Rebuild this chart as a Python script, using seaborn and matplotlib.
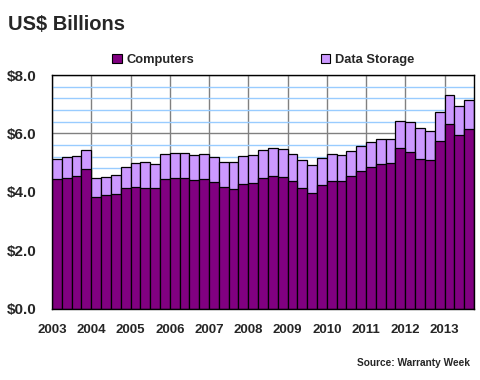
import matplotlib
matplotlib.use("Agg")
import matplotlib.pyplot as plt
import matplotlib.transforms as mtransforms
from matplotlib.patches import Patch
from matplotlib.ticker import MultipleLocator, FuncFormatter
import numpy as np
import pandas as pd
import seaborn as sns

# quarterly values, 2003 Q1 .. 2013 Q3 (US$ billions)
years = ['2003', '2004', '2005', '2006', '2007', '2008',
         '2009', '2010', '2011', '2012', '2013']
computers = [4.43, 4.46, 4.53, 4.78, 3.81, 3.88, 3.91, 4.12,
             4.15, 4.12, 4.12, 4.45, 4.46, 4.46, 4.39, 4.43,
             4.32, 4.15, 4.08, 4.25, 4.29, 4.46, 4.53, 4.49,
             4.36, 4.12, 3.95, 4.22, 4.36, 4.36, 4.53, 4.70,
             4.84, 4.94, 4.97, 5.49, 5.35, 5.11, 5.08, 5.73,
             6.31, 5.93, 6.14]
storage = [0.70, 0.72, 0.68, 0.64, 0.65, 0.61, 0.65, 0.72,
           0.82, 0.89, 0.82, 0.83, 0.86, 0.86, 0.86, 0.85,
           0.86, 0.86, 0.93, 0.96, 0.96, 0.96, 0.96, 0.96,
           0.92, 0.96, 0.96, 0.93, 0.92, 0.89, 0.86, 0.87,
           0.86, 0.88, 0.85, 0.92, 1.03, 1.06, 0.99, 0.99,
           0.99, 1.00, 0.99]
quarters = [f"{y}Q{q}" for y in years for q in range(1, 5)][:len(computers)]

df = pd.DataFrame({'quarter': quarters, 'computers': computers, 'storage': storage})
df['total'] = df['computers'] + df['storage']

sns.set_style('white')
plt.rcParams['font.family'] = ['Liberation Sans', 'DejaVu Sans']

dark = '#800080'
light = '#CC99FF'

fig = plt.figure(figsize=(4.8, 3.8), dpi=100)
ax = fig.add_axes([52 / 480, 1 - 308.5 / 380, 422 / 480, 233.5 / 380])

#stacked bars: the total first, computers drawn over it
sns.barplot(data=df, x='quarter', y='total', color=light, saturation=1,
            width=1, edgecolor='black', linewidth=0.9, ax=ax)
sns.barplot(data=df, x='quarter', y='computers', color=dark, saturation=1,
            width=1, edgecolor='black', linewidth=0.9, ax=ax)

ax.set_xlim(-0.5, len(computers) - 0.5)
ax.set_ylim(0, 8)
ax.set_xlabel('')
ax.set_ylabel('')

ax.set_xticks(np.arange(-0.5, len(computers), 4))
ax.set_xticklabels(years, fontsize=9.5, fontweight='bold')
offset = mtransforms.ScaledTranslation(5 / 100, 0, fig.dpi_scale_trans)
for lbl in ax.get_xticklabels():
    lbl.set_transform(lbl.get_transform() + offset)

ax.yaxis.set_major_locator(MultipleLocator(2))
ax.yaxis.set_minor_locator(MultipleLocator(0.4))
ax.yaxis.set_major_formatter(FuncFormatter(lambda v, p: f"${v:.1f}"))
for lbl in ax.get_yticklabels():
    lbl.set_fontsize(11)
    lbl.set_fontweight('bold')

ax.set_axisbelow(True)
ax.yaxis.grid(True, which='minor', color='#99CCFF', lw=1)
ax.yaxis.grid(True, which='major', color='#808080', lw=1)
ax.xaxis.grid(True, which='major', color='#808080', lw=1)

ax.tick_params(axis='both', which='major', direction='out', length=5,
               width=1, color='black', pad=6)
ax.tick_params(axis='both', which='minor', length=0)
for s in ax.spines.values():
    s.set_color('black')
    s.set_linewidth(1)

handles = [Patch(facecolor=dark, edgecolor='black', lw=0.8, label='Computers'),
           Patch(facecolor=light, edgecolor='black', lw=0.8, label='Data Storage')]
fig.legend(handles=handles, loc='center', bbox_to_anchor=(0.548, 1 - 60 / 380),
           ncol=2, frameon=False, prop={'size': 9.3, 'weight': 'bold'},
           columnspacing=9.8, handlelength=0.75, handleheight=0.75,
           handletextpad=0.35)

fig.text(8 / 480, 1 - 30 / 380, 'US$ Billions', fontsize=14.5,
         fontweight='bold', va='baseline')
fig.text(470 / 480, 1 - 362.5 / 380, 'Source: Warranty Week', fontsize=7.3,
         fontweight='bold', ha='right', va='center')

fig.savefig('out.png', dpi=100)
